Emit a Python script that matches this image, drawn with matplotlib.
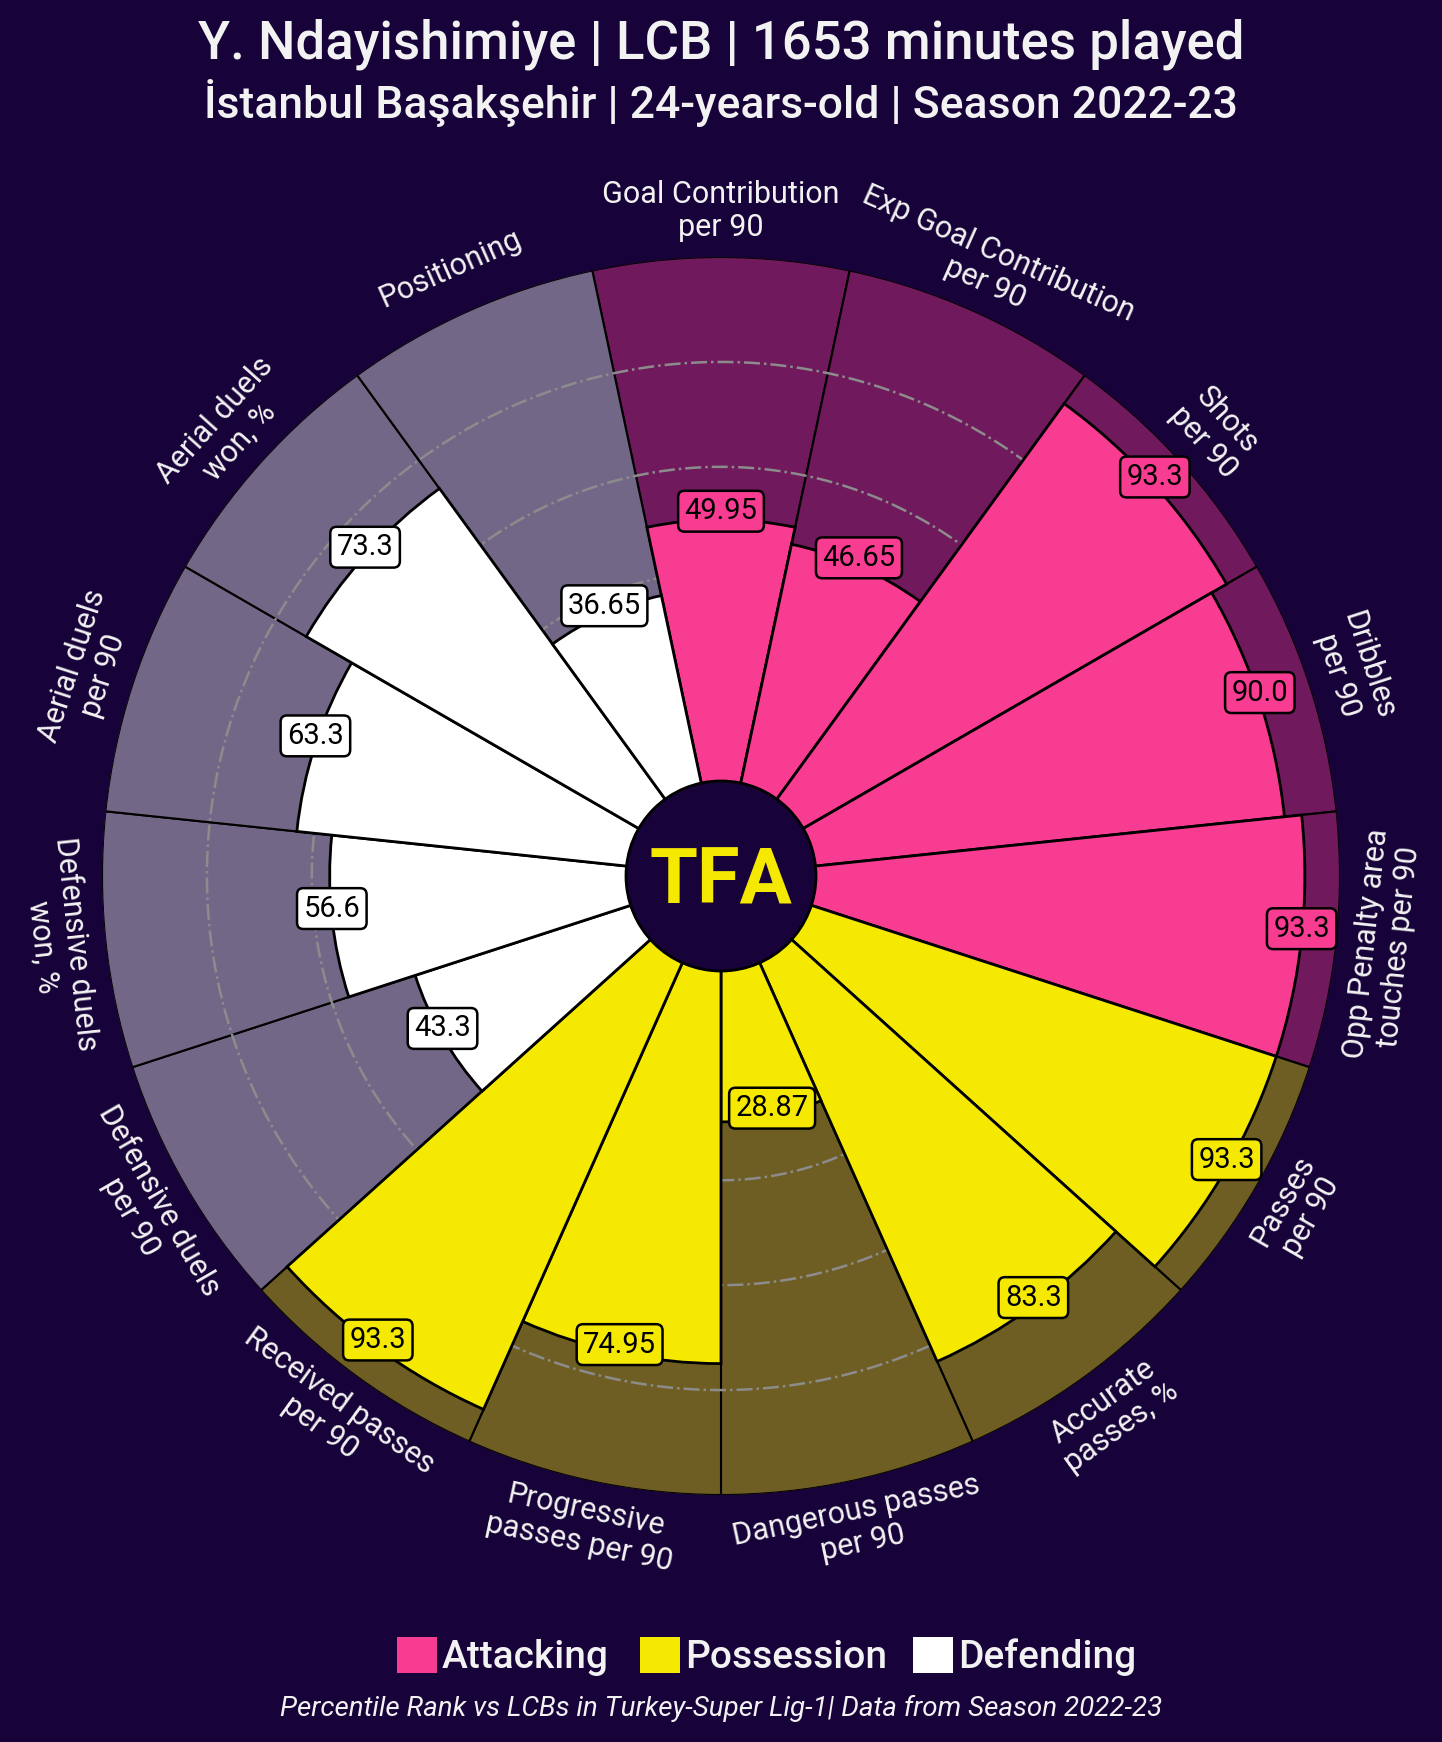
"""Percentile pizza chart for Y. Ndayishimiye (LCB, 2022-23)."""
import numpy as np
import matplotlib
matplotlib.use("Agg")
import matplotlib.pyplot as plt
from matplotlib.colors import to_rgba
from matplotlib.patches import Circle, Rectangle

BG = "#170239"
TEXT = "#F2F2F2"
COLORS = {"Attacking": "#F83C91", "Possession": "#F5E902", "Defending": "#FFFFFF"}

# clockwise from the top
params = [
    "Goal Contribution\nper 90",
    "Exp Goal Contribution\nper 90",
    "Shots\nper 90",
    "Dribbles\nper 90",
    "Opp Penalty area\ntouches per 90",
    "Passes\nper 90",
    "Accurate\npasses, %",
    "Dangerous passes\nper 90",
    "Progressive\npasses per 90",
    "Received passes\nper 90",
    "Defensive duels\nper 90",
    "Defensive duels\nwon, %",
    "Aerial duels\nper 90",
    "Aerial duels\nwon, %",
    "Positioning",
]
values = [49.95, 46.65, 93.3, 90.0, 93.3, 93.3, 83.3, 28.87, 74.95, 93.3,
          43.3, 56.6, 63.3, 73.3, 36.65]
value_labels = ["49.95", "46.65", "93.3", "90.0", "93.3", "93.3", "83.3",
                "28.87", "74.95", "93.3", "43.3", "56.6", "63.3", "73.3",
                "36.65"]
groups = ["Attacking"] * 5 + ["Possession"] * 5 + ["Defending"] * 5
legend_names = ["Attacking", "Possession", "Defending"]

plt.rcParams["font.family"] = ["Roboto", "DejaVu Sans"]

W, H = 1442, 1742
fig = plt.figure(figsize=(W / 100, H / 100), dpi=100, facecolor=BG)

# polar axes: centre (721, 876) px, outer radius 619 px
cx, cy, R = 721, 876, 619
ax = fig.add_axes([(cx - R) / W, (H - cy - R) / H, 2 * R / W, 2 * R / H],
                  projection="polar")
ax.set_facecolor(BG)
ax.set_ylim(0, 100)
ax.set_rorigin(-18)
ax.grid(False)
ax.spines["polar"].set_visible(False)
ax.set_xticks([])
ax.set_yticks([])

n = len(params)
step = 2 * np.pi / n
thetas = np.pi / 2 - np.arange(n) * step
cols = [COLORS[g] for g in groups]

# background slices
ax.bar(thetas, [100] * n, width=step, bottom=0,
       color=[to_rgba(c, 0.4) for c in cols], edgecolor="black",
       linewidth=1.5, zorder=1)

# dash-dot rings
tt = np.linspace(0, 2 * np.pi, 500)
for r in [20, 40, 60, 80]:
    ax.plot(tt, [r] * len(tt), color="#8c8c8c", lw=1.8, ls="-.", zorder=2)

# value slices
ax.bar(thetas, values, width=step, bottom=0, color=cols,
       edgecolor="black", linewidth=2, zorder=3)

for th, v, lab, c in zip(thetas, values, value_labels, cols):
    ax.annotate(lab, xy=(th, v), xytext=(0, 6), textcoords="offset points",
                ha="center", va="center", fontsize=21, color="black",
                zorder=6,
                bbox=dict(boxstyle="round,pad=0.22", fc=c, ec="black",
                          lw=1.8))

for th, p in zip(thetas, params):
    deg = np.degrees(th) % 360
    rot = deg - 90 if deg <= 180 else deg + 90
    ax.text(th, 108.8, p, ha="center", va="center", rotation=rot,
            rotation_mode="anchor", fontsize=22, color=TEXT,
            multialignment="center", linespacing=1.15, clip_on=False)

# centre logo
hole = 95 / (2 * R)
ax.add_patch(Circle((0.5, 0.5), hole, transform=ax.transAxes, fc=BG,
                    ec="black", lw=2, zorder=7, clip_on=False))
ax.text(0.5, 0.495, "TFA", transform=ax.transAxes, ha="center", va="center",
        fontsize=56, fontweight="bold", color=COLORS["Possession"], zorder=8)

fig.text(0.5, 1 - 44 / H, "Y. Ndayishimiye | LCB | 1653 minutes played",
         ha="center", va="center", fontsize=38, fontweight="medium",
         color=TEXT)
fig.text(0.5, 1 - 103 / H,
         "İstanbul Başakşehir | 24-years-old | Season 2022-23",
         ha="center", va="center", fontsize=32, fontweight="medium",
         color=TEXT)

# legend
sq_x = [397, 640, 913]
for x, name in zip(sq_x, legend_names):
    fig.patches.append(Rectangle((x / W, 1 - 1673 / H), 40 / W, 36 / H,
                                 transform=fig.transFigure,
                                 fc=COLORS[name], ec="none"))
    fig.text((x + 45) / W, 1 - 1657 / H, name, ha="left", va="center",
             fontsize=28, fontweight="medium", color=TEXT)

fig.text(0.5, 1 - 1708 / H,
         "Percentile Rank vs LCBs in Turkey-Super Lig-1| Data from Season 2022-23",
         ha="center", va="center", fontsize=20, style="italic", color=TEXT)

fig.savefig("out.png", dpi=100, facecolor=BG)
